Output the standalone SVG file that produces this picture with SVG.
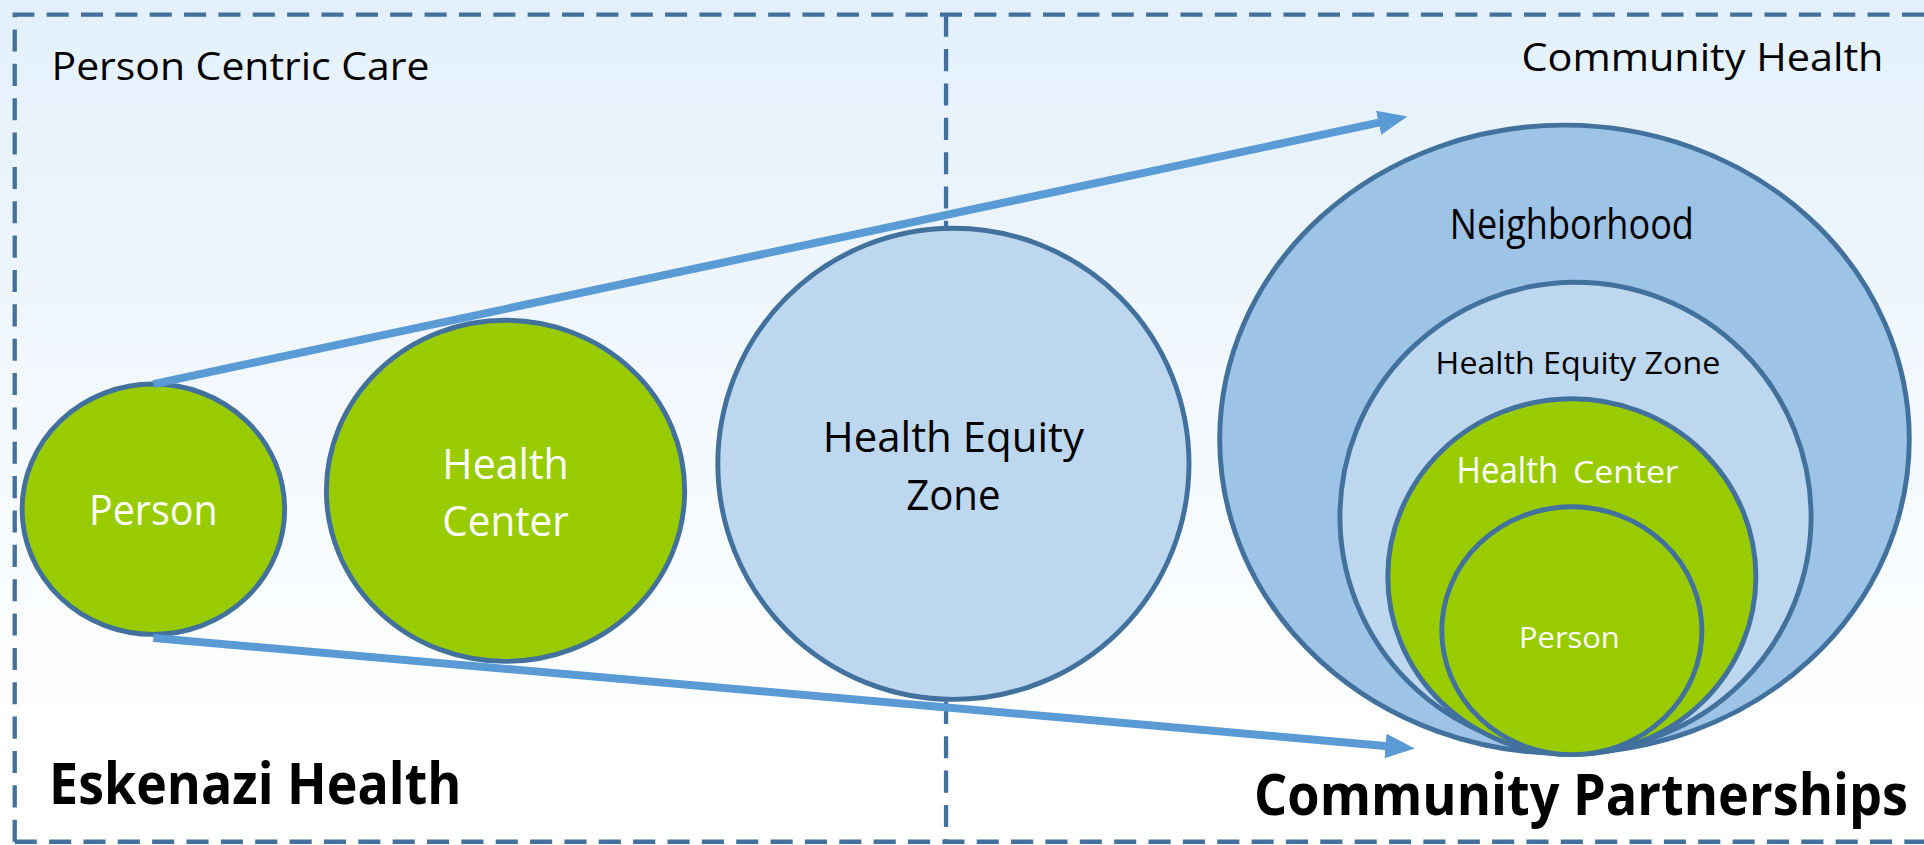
<svg xmlns="http://www.w3.org/2000/svg" width="1924" height="845" viewBox="0 0 1924 845">
<defs>
<linearGradient id="bg" x1="0" y1="0" x2="0" y2="600" gradientUnits="userSpaceOnUse">
<stop offset="0" stop-color="#e3f0fb"/>
<stop offset="1" stop-color="#ffffff"/>
</linearGradient>
<marker id="ah" markerUnits="userSpaceOnUse" markerWidth="24" markerHeight="20" viewBox="0 0 24 20" refX="2" refY="10" orient="auto">
<path d="M0,0 L24,10 L0,20 z" fill="#5b9bd5"/>
</marker>
<style>
.border{fill:none;stroke:#41719c;stroke-width:3.5;stroke-dasharray:18 10}
.green{fill:#99cc00;stroke:#41719c;stroke-width:4}
.lblue{fill:#bdd7ee;stroke:#41719c;stroke-width:4}
.mblue{fill:#9dc3e6;stroke:#41719c;stroke-width:4}
.conn{fill:none;stroke:#5b9bd5;stroke-width:6.5;marker-end:url(#ah)}
text{font-family:"Open Sans","Liberation Sans",sans-serif}
.w{fill:#ffffff}
.k{fill:#000000}
.b{font-weight:bold}
</style>
</defs>
<g transform="scale(1.22704)">
<rect x="0" y="0" width="1570" height="690" fill="url(#bg)"/>
<g id="frame">
<path class="border" d="M12,686 L12,12 L1570,12"/>
<path class="border" d="M12,686 L1570,686"/>
<path class="border" d="M771,12 L771,686"/>
</g>
<g id="title-left"><text class="k" x="42" y="65" font-size="31" textLength="308" lengthAdjust="spacingAndGlyphs">Person Centric Care</text></g>
<g id="title-right"><text class="k" x="1240" y="58" font-size="31" textLength="295" lengthAdjust="spacingAndGlyphs">Community Health</text></g>
<g id="person">
<ellipse class="green" cx="125" cy="415" rx="107" ry="102"/>
<text class="w" x="125" y="428" font-size="34" text-anchor="middle" textLength="105" lengthAdjust="spacingAndGlyphs">Person</text>
</g>
<g id="health-center">
<ellipse class="green" cx="412" cy="400" rx="146" ry="139"/>
<text class="w" x="412" y="390" font-size="34" text-anchor="middle" textLength="103" lengthAdjust="spacingAndGlyphs">Health</text>
<text class="w" x="412" y="437" font-size="34" text-anchor="middle" textLength="103" lengthAdjust="spacingAndGlyphs">Center</text>
</g>
<g id="health-equity-zone">
<ellipse class="lblue" cx="777" cy="378" rx="192" ry="192"/>
<text class="k" x="777" y="368" font-size="34" text-anchor="middle" textLength="213" lengthAdjust="spacingAndGlyphs">Health Equity</text>
<text class="k" x="777" y="416" font-size="34" text-anchor="middle" textLength="77" lengthAdjust="spacingAndGlyphs">Zone</text>
</g>
<g id="neighborhood">
<ellipse class="mblue" cx="1275" cy="358" rx="281" ry="256"/>
<text class="k" x="1281" y="195" font-size="34" text-anchor="middle" textLength="199" lengthAdjust="spacingAndGlyphs">Neighborhood</text>
</g>
<g id="inner-health-equity-zone">
<ellipse class="lblue" cx="1284" cy="421" rx="192" ry="191"/>
<text class="k" x="1286" y="305" font-size="25" text-anchor="middle" textLength="232" lengthAdjust="spacingAndGlyphs">Health Equity Zone</text>
</g>
<g id="inner-health-center">
<ellipse class="green" cx="1281" cy="470" rx="150" ry="145"/>
<text class="w" x="1187" y="394" font-size="30" textLength="83" lengthAdjust="spacingAndGlyphs">Health</text>
<text class="w" x="1282" y="394" font-size="25" textLength="86" lengthAdjust="spacingAndGlyphs">Center</text>
</g>
<g id="inner-person">
<ellipse class="green" cx="1281" cy="514" rx="106" ry="101"/>
<text class="w" x="1279" y="528" font-size="24" text-anchor="middle" textLength="82" lengthAdjust="spacingAndGlyphs">Person</text>
</g>
<g id="connectors">
<line class="conn" x1="125" y1="313" x2="1125.5" y2="99.6"/>
<line class="conn" x1="125" y1="520" x2="1131.1" y2="608.1"/>
</g>
<g id="footer-left"><text class="k b" x="40" y="655" font-size="46" textLength="336" lengthAdjust="spacingAndGlyphs">Eskenazi Health</text></g>
<g id="footer-right"><text class="k b" x="1022" y="664" font-size="47" textLength="533" lengthAdjust="spacingAndGlyphs">Community Partnerships</text></g>
</g>
</svg>
